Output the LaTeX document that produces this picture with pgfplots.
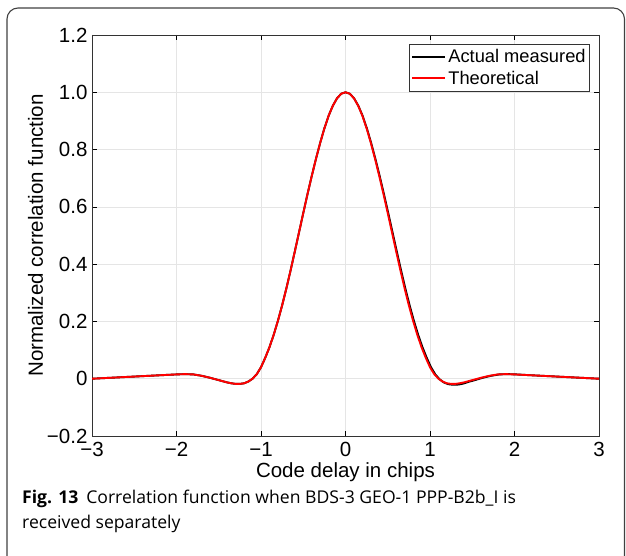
\documentclass[border=0pt]{standalone}
\usepackage{fontspec}
\setmainfont{Liberation Sans}
\newfontfamily\capfont{Open Sans}
\usepackage{pgfplots}
\pgfplotsset{compat=1.18}
\begin{document}
\begin{tikzpicture}[x=1pt,y=1pt]
\useasboundingbox (0,0) rectangle (626,556);
\begin{scope}
\clip (0,0) rectangle (626,556);
\draw[rounded corners=11pt, line width=1.1pt, black!75] (7,548) rectangle (624.5,-12);
\end{scope}
\begin{axis}[
  at={(92pt,120pt)}, anchor=south west,
  scale only axis, width=507pt, height=401pt,
  xmin=-3, xmax=3, ymin=-0.2, ymax=1.2,
  xtick={-3,-2,-1,0,1,2,3},
  xticklabels={−3,−2,−1,0,1,2,3},
  ytick={-0.2,0,0.2,0.4,0.6,0.8,1.0,1.2},
  yticklabels={−0.2,0,0.2,0.4,0.6,0.8,1.0,1.2},
  grid=major, grid style={black!10, line width=0.6pt},
  tick align=inside, major tick length=5pt,
  tick style={black, line width=0.6pt},
  axis line style={black!80, line width=0.8pt},
  ticklabel style={font=\fontsize{20.5}{24}\selectfont},
  xticklabel style={yshift=-3pt},
  yticklabel style={xshift=-1pt},
  xlabel={Code delay in chips},
  ylabel={Normalized correlation function},
  label style={font=\fontsize{20.5}{24}\selectfont},
  xlabel style={yshift=1pt},
  ylabel style={yshift=-3pt},
  legend style={at={(1,1)}, anchor=north east, xshift=-9pt, yshift=-9pt,
    draw=black!80, line width=0.7pt, font=\fontsize{18.3}{21}\selectfont,
    inner xsep=2pt, inner ysep=3pt, row sep=3pt, cells={anchor=west}},
  legend cell align=left,
  legend image code/.code={\draw[#1, line width=2pt] (0pt,0pt) -- (33pt,0pt);},
]
\addplot[black, line width=1.9pt] coordinates {
(-3,0) (-2.8,0.003) (-2.6,0.006) (-2.4,0.009) (-2.2,0.012) (-2.0,0.015) (-1.9,0.016) (-1.8,0.015) (-1.7,0.010) (-1.6,0.003)
(-1.5,-0.005) (-1.45,-0.009) (-1.4,-0.013) (-1.35,-0.016) (-1.3,-0.018) (-1.25,-0.018) (-1.2,-0.016) (-1.15,-0.010) (-1.1,0.000) (-1.05,0.016)
(-1.0,0.040) (-0.95,0.073) (-0.9,0.110) (-0.85,0.153) (-0.8,0.202) (-0.75,0.256) (-0.7,0.315) (-0.65,0.378) (-0.6,0.444) (-0.55,0.511)
(-0.5,0.578) (-0.45,0.644) (-0.4,0.707) (-0.35,0.767) (-0.3,0.823) (-0.25,0.874) (-0.2,0.918) (-0.15,0.953) (-0.1,0.979) (-0.05,0.995) (0,1)
(0.0506,0.995) (0.1012,0.979) (0.1518,0.953) (0.2024,0.918) (0.253,0.874) (0.3036,0.823) (0.3542,0.767) (0.4048,0.707) (0.4554,0.644) (0.506,0.578)
(0.5566,0.511) (0.6072,0.444) (0.6578,0.378) (0.7084,0.315) (0.759,0.256) (0.8096,0.202) (0.8602,0.153) (0.9108,0.110) (0.9614,0.073) (1.012,0.040)
(1.0626,0.015) (1.1132,-0.002) (1.1638,-0.013) (1.2144,-0.019) (1.265,-0.021) (1.3156,-0.021) (1.3662,-0.019) (1.4168,-0.015) (1.4674,-0.010) (1.518,-0.006)
(1.62,0.003) (1.72,0.010) (1.82,0.015) (1.92,0.016) (2.02,0.015) (2.2,0.012) (2.4,0.009) (2.6,0.006) (2.8,0.003) (3,0)
};
\addlegendentry{Actual measured}
\addplot[red, line width=1.9pt] coordinates {
(-3,0) (-2.8,0.003) (-2.6,0.006) (-2.4,0.009) (-2.2,0.012) (-2.0,0.015) (-1.9,0.016) (-1.8,0.015) (-1.7,0.010) (-1.6,0.003)
(-1.5,-0.005) (-1.45,-0.009) (-1.4,-0.013) (-1.35,-0.016) (-1.3,-0.018) (-1.25,-0.018) (-1.2,-0.016) (-1.15,-0.010) (-1.1,0.000) (-1.05,0.016)
(-1.0,0.040) (-0.95,0.073) (-0.9,0.110) (-0.85,0.153) (-0.8,0.202) (-0.75,0.256) (-0.7,0.315) (-0.65,0.378) (-0.6,0.444) (-0.55,0.511)
(-0.5,0.578) (-0.45,0.644) (-0.4,0.707) (-0.35,0.767) (-0.3,0.823) (-0.25,0.874) (-0.2,0.918) (-0.15,0.953) (-0.1,0.979) (-0.05,0.995) (0,1)
(0.05,0.995) (0.1,0.979) (0.15,0.953) (0.2,0.918) (0.25,0.874) (0.3,0.823) (0.35,0.767) (0.4,0.707) (0.45,0.644) (0.5,0.578)
(0.55,0.511) (0.6,0.444) (0.65,0.378) (0.7,0.315) (0.75,0.256) (0.8,0.202) (0.85,0.153) (0.9,0.110) (0.95,0.073) (1.0,0.040)
(1.05,0.016) (1.1,0.000) (1.15,-0.010) (1.2,-0.016) (1.25,-0.018) (1.3,-0.018) (1.35,-0.016) (1.4,-0.013) (1.45,-0.009) (1.5,-0.005)
(1.6,0.003) (1.7,0.010) (1.8,0.015) (1.9,0.016) (2.0,0.015) (2.2,0.012) (2.4,0.009) (2.6,0.006) (2.8,0.003) (3,0)
};
\addlegendentry{Theoretical}
\end{axis}
\node[anchor=base west, inner sep=0pt, font=\capfont\fontsize{17.6}{20}\selectfont] at (22,52) {\textbf{Fig. 13}\hspace{0.45em}Correlation function when BDS-3 GEO-1 PPP-B2b\_I is};
\node[anchor=base west, inner sep=0pt, font=\capfont\fontsize{17.6}{20}\selectfont] at (22,27) {received separately};
\end{tikzpicture}
\end{document}
